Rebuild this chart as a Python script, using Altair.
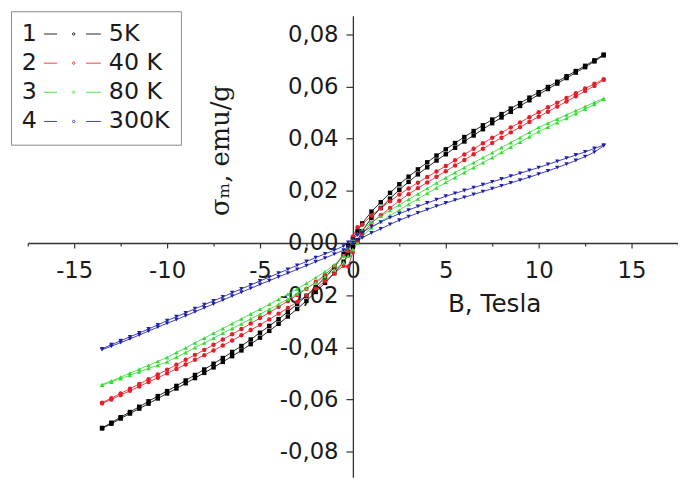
import altair as alt
import pandas as pd

# ---------------- data (sigma in 1e-3 emu/g) ----------------
B_POS = [0.5, 1.0, 1.5, 2.0, 2.5, 3.0, 3.5, 4.0, 4.5, 5.0, 5.5, 6.0, 6.5, 7.0,
         7.5, 8.0, 8.5, 9.0, 9.5, 10.0, 10.5, 11.0, 11.5, 12.0, 12.5, 13.0, 13.5]
B_NEG = [-13.5, -13.0, -12.5, -12.0, -11.5, -11.0, -10.5, -10.0, -9.5, -9.0, -8.5,
         -8.0, -7.5, -7.0, -6.5, -6.0, -5.5, -5.0, -4.5, -4.0, -3.5, -3.0, -2.5,
         -2.0, -1.5, -1.0, -0.5]
B_LOW = [-0.25, 0.0, 0.25]

SERIES = ["5K", "40 K", "80 K", "300K"]
COLORS = ["#000000", "#e3202a", "#35dc35", "#1f1fb0"]
SHAPES = ["square", "circle", "triangle-up", "triangle-down"]

K5_POS_DESC = [7.5, 12.0, 15.6, 19.2, 22.5, 25.4, 28.2, 30.9, 33.5, 35.9, 38.3, 40.6, 42.9, 45.1,
               47.3, 49.4, 51.5, 53.6, 55.7, 57.8, 59.8, 61.8, 63.9, 65.9, 67.9, 70.0, 72.2]
K5_POS_ASC = [4.5, 9.6, 13.4, 17.0, 20.4, 23.4, 26.3, 29.0, 31.6, 34.0, 36.5, 38.9, 41.2, 43.6,
              45.9, 48.1, 50.3, 52.5, 54.7, 56.9, 59.0, 61.1, 63.2, 65.3, 67.4, 69.6, 71.9]
K5_NEG_DESC = [-70.9, -68.9, -66.8, -64.8, -62.8, -60.7, -58.7, -56.8, -54.8, -52.7, -50.6, -48.5,
               -46.3, -44.1, -41.8, -39.5, -37.0, -34.4, -31.8, -29.2, -26.4, -23.4, -20.3, -16.9,
               -13.2, -9.3, -4.2]
K5_NEG_ASC = [-71.1, -69.3, -67.3, -65.4, -63.5, -61.6, -59.6, -57.7, -55.8, -53.8, -51.8, -49.8,
              -47.7, -45.6, -43.4, -41.2, -38.8, -36.3, -33.7, -31.0, -28.2, -25.3, -22.2, -18.8,
              -15.3, -11.6, -7.2]
K5_LOW_DESC = [-1.0, 1.5, 4.5]
K5_LOW_ASC = [-4.5, -1.5, 1.0]

K40_POS_DESC = [7.0, 10.5, 13.3, 16.0, 18.6, 20.9, 23.1, 25.3, 27.4, 29.5, 31.7, 33.9, 36.1, 38.2,
                40.3, 42.3, 44.3, 46.2, 48.2, 50.1, 52.0, 53.8, 55.6, 57.4, 59.2, 61.0, 62.8]
K40_POS_ASC = [3.5, 7.6, 10.6, 13.4, 16.2, 18.7, 21.0, 23.2, 25.4, 27.5, 29.7, 31.8, 34.0, 36.1,
               38.3, 40.3, 42.4, 44.4, 46.4, 48.4, 50.3, 52.3, 54.2, 56.2, 58.2, 60.2, 62.5]
K40_NEG_DESC = [-61.2, -59.5, -57.7, -55.9, -54.1, -52.2, -50.4, -48.6, -46.7, -44.8, -42.9, -41.0,
                -39.0, -37.0, -35.0, -33.0, -30.9, -28.8, -26.7, -24.5, -22.3, -20.0, -17.6, -15.0,
                -12.2, -9.0, -5.0]
K40_NEG_ASC = [-61.5, -60.0, -58.3, -56.7, -55.0, -53.3, -51.7, -50.0, -48.3, -46.6, -44.8, -43.0,
               -41.2, -39.3, -37.4, -35.4, -33.4, -31.4, -29.3, -27.1, -24.9, -22.6, -20.1, -17.5,
               -14.7, -11.6, -8.8]
K40_LOW_DESC = [-3.0, 2.5, 6.0]
K40_LOW_ASC = [-9.0, -3.5, 0.5]

K80_POS_DESC = [5.0, 8.0, 10.3, 12.5, 14.6, 16.7, 18.8, 20.9, 23.0, 25.0, 27.0, 28.9, 30.8, 32.7,
                34.6, 36.6, 38.5, 40.4, 42.4, 44.3, 45.9, 47.5, 49.1, 50.7, 52.3, 53.9, 55.4]
K80_POS_ASC = [2.5, 5.8, 8.2, 10.5, 12.6, 14.8, 16.9, 19.0, 21.1, 23.2, 25.1, 27.0, 28.9, 30.8,
               32.7, 34.7, 36.7, 38.7, 40.7, 42.7, 44.4, 46.1, 47.8, 49.6, 51.3, 53.1, 55.1]
K80_NEG_DESC = [-54.3, -52.9, -51.4, -49.9, -48.4, -46.9, -45.4, -43.9, -42.0, -40.2, -38.3, -36.5,
                -34.6, -32.8, -30.9, -29.1, -27.2, -25.4, -23.5, -21.6, -19.6, -17.6, -15.5, -13.3,
                -11.0, -8.4, -5.0]
K80_NEG_ASC = [-54.5, -53.3, -52.0, -50.7, -49.4, -48.1, -46.9, -45.6, -43.8, -42.0, -40.1, -38.3,
               -36.5, -34.6, -32.8, -31.0, -29.1, -27.3, -25.4, -23.5, -21.5, -19.5, -17.4, -15.2,
               -12.9, -10.4, -7.5]
K80_LOW_DESC = [-1.5, 1.5, 3.5]
K80_LOW_ASC = [-5.0, -2.5, 0.0]

K300_POS_DESC = [4.0, 6.2, 8.0, 9.7, 11.2, 12.6, 14.0, 15.3, 16.6, 17.9, 19.0, 20.1, 21.2, 22.3,
                 23.4, 24.5, 25.6, 26.7, 27.8, 28.9, 30.1, 31.3, 32.5, 33.7, 34.9, 36.2, 37.5]
K300_POS_ASC = [2.0, 3.8, 5.4, 7.1, 8.7, 10.1, 11.5, 12.8, 14.1, 15.3, 16.4, 17.5, 18.6, 19.7,
                20.8, 21.9, 23.0, 24.1, 25.2, 26.4, 27.6, 28.9, 30.2, 31.6, 33.1, 34.8, 37.2]
K300_NEG_DESC = [-40.6, -39.0, -37.5, -36.0, -34.5, -33.0, -31.4, -29.8, -28.3, -26.8, -25.2, -23.7,
                 -22.2, -20.7, -19.1, -17.6, -16.1, -14.6, -13.1, -11.6, -10.1, -8.6, -7.1, -5.6,
                 -4.2, -2.8, -1.2]
K300_NEG_ASC = [-40.9, -39.6, -38.2, -36.8, -35.3, -33.8, -32.3, -30.8, -29.4, -27.9, -26.4, -24.9,
                -23.4, -21.9, -20.4, -18.9, -17.4, -15.9, -14.5, -13.0, -11.6, -10.1, -8.7, -7.2,
                -5.8, -4.3, -2.8]
K300_LOW_DESC = [0.2, 1.5, 3.0]
K300_LOW_ASC = [-1.8, 0.0, 1.0]

X_TICKS = [-17.5, -15, -12.5, -10, -7.5, -5, -2.5, 0, 2.5, 5, 7.5, 10, 12.5, 15, 17.5]
Y_TICKS = [-0.08, -0.07, -0.06, -0.05, -0.04, -0.03, -0.02, -0.01, 0.0,
           0.01, 0.02, 0.03, 0.04, 0.05, 0.06, 0.07, 0.08]
LEGEND_NUMS = ["1", "2", "3", "4"]

# ---------------- table ----------------
TABLES = {
    "5K": (K5_POS_DESC, K5_POS_ASC, K5_NEG_DESC, K5_NEG_ASC, K5_LOW_DESC, K5_LOW_ASC),
    "40 K": (K40_POS_DESC, K40_POS_ASC, K40_NEG_DESC, K40_NEG_ASC, K40_LOW_DESC, K40_LOW_ASC),
    "80 K": (K80_POS_DESC, K80_POS_ASC, K80_NEG_DESC, K80_NEG_ASC, K80_LOW_DESC, K80_LOW_ASC),
    "300K": (K300_POS_DESC, K300_POS_ASC, K300_NEG_DESC, K300_NEG_ASC, K300_LOW_DESC, K300_LOW_ASC),
}
rows = []
for si, s in enumerate(SERIES):
    p_d, p_a, n_d, n_a, l_d, l_a = TABLES[s]
    desc = list(zip(B_NEG, n_d)) + list(zip(B_LOW, l_d)) + list(zip(B_POS, p_d))
    asc = list(zip(B_NEG, n_a)) + list(zip(B_LOW, l_a)) + list(zip(B_POS, p_a))
    for br, pts in (("desc", desc), ("asc", asc)):
        for b, v in pts:
            rows.append({"B": b, "sigma": v / 1000.0, "series": s,
                         "curve": f"{s}-{br}", "idx": si})
df = pd.DataFrame(rows)

X_DOMAIN = [-17.5, 17.5]
Y_DOMAIN = [-0.0898, 0.0871]
W, H = 658, 467
SANS = "DejaVu Sans"
SERIF = "DejaVu Serif"

sym_path = ("M-1.33,0H1.33M7.2,0H10.2"
            "M4.45,0A0.25,0.25,0,1,1,4.95,0A0.25,0.25,0,1,1,4.45,0Z")

xscale = alt.Scale(domain=X_DOMAIN, nice=False, zero=False)
yscale = alt.Scale(domain=Y_DOMAIN, nice=False, zero=False)

x_axis = alt.Axis(
    values=X_TICKS, orient="bottom", offset=-237, grid=False,
    domainColor="#333333", domainWidth=1.3, tickColor="#333333", tickWidth=1.2,
    tickSize={"condition": {"test": "abs(datum.value) % 5 === 0", "value": 5}, "value": 3},
    labelExpr="abs(datum.value) % 5 === 0 ? (datum.value < 0 ? '-' : '') + format(abs(datum.value), 'd') : ''",
    labelFont=SANS, labelFontSize=23, labelColor="#1a1a1a", labelPadding=12,
    labelOverlap=False, labelFlush=False, labelBound=False,
    title="B, Tesla", titleFont=SANS, titleFontSize=25, titleFontWeight="normal",
    titleColor="#1a1a1a", titleX=472, titleY=69, titleAlign="center", titleBaseline="alphabetic",
)
y_axis = alt.Axis(
    values=Y_TICKS, orient="left", offset=-329, grid=False,
    domainColor="#333333", domainWidth=1.3, tickColor="#333333", tickWidth=1.2,
    tickSize={"condition": {"test": "round(abs(datum.value) * 100) % 2 === 0", "value": 7}, "value": 3.5},
    labelExpr="round(abs(datum.value) * 100) % 2 === 0 ? (datum.value < -0.001 ? '-' : '') + replace(format(abs(datum.value), '.2f'), '.', ',') : ''",
    labelFont=SANS, labelFontSize=23, labelColor="#1a1a1a", labelPadding=8,
    labelOverlap=False, labelFlush=False, labelBound=False,
    title="σₘ, emu/g", titleFont=SERIF, titleFontSize=26, titleFontWeight="normal",
    titleColor="#1a1a1a", titleAngle=270, titleX=-126, titleY=136, titleAlign="center",
    titleBaseline="alphabetic",
)

legend = alt.Legend(
    orient="none", legendX=-17, legendY=-4.5,
    title=LEGEND_NUMS, titleOrient="left", titleFont=SANS,
    titleFontSize=24, titleFontWeight="normal", titleColor="#1a1a1a", titleLineHeight=29.5,
    titlePadding=1, titleAnchor="start", titleBaseline="top", titleAlign="left",
    labelFont=SANS, labelFontSize=24, labelColor="#1a1a1a", labelOffset=47,
    symbolType=sym_path, symbolSize=100, symbolStrokeWidth=1,
    rowPadding=5.5, padding=11, strokeColor="#8a8a8a", fillColor="white",
)

base = alt.Chart(df)

lines = base.mark_line(strokeWidth=1, opacity=0.85).encode(
    x=alt.X("B:Q", scale=xscale, axis=x_axis),
    y=alt.Y("sigma:Q", scale=yscale, axis=y_axis),
    color=alt.Color("series:N", scale=alt.Scale(domain=SERIES, range=COLORS), legend=legend),
    detail="curve:N",
    order="B:Q",
)

point_layers = []
for s, c, shp in zip(SERIES, COLORS, SHAPES):
    point_layers.append(
        base.transform_filter(alt.datum.series == s)
        .mark_point(filled=True, size=20, opacity=1, shape=shp, color=c)
        .encode(x=alt.X("B:Q", scale=xscale), y=alt.Y("sigma:Q", scale=yscale))
    )

chart = alt.layer(lines, *point_layers).properties(
    width=W, height=H,
    autosize=alt.AutoSizeParams(type="none"),
    padding={"left": 20, "top": 5, "right": 0, "bottom": 0},
    background="white",
).configure_view(stroke=None)

chart.save("out.html", embed_options={"renderer": "svg", "actions": False})
